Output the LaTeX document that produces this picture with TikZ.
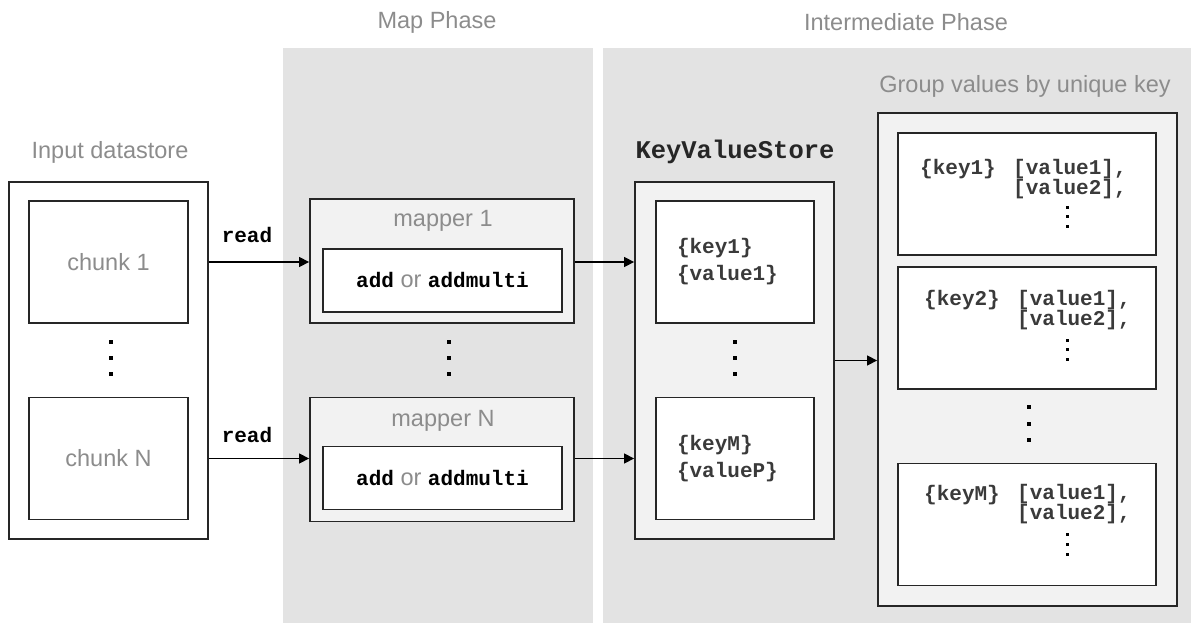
\documentclass[tikz,border=0pt]{standalone}
\usepackage{fontspec}
\setmainfont{Liberation Sans}
\setmonofont{Liberation Mono}
\usetikzlibrary{arrows.meta, positioning}
\definecolor{phasegray}{HTML}{E3E3E3}
\definecolor{panelgray}{HTML}{F2F2F2}
\definecolor{labelgray}{HTML}{8C8C8C}
\definecolor{edgegray}{HTML}{262626}
\definecolor{codegray}{HTML}{3A3A3A}
\newcommand{\mrcode}[1]{{\color{black}\fontsize{21}{20}\selectfont\ttfamily\bfseries #1}}
\tikzset{
  panel/.style={
    draw=edgegray,
    line width=1.8pt,
    rectangle,
    fill=panelgray,
    inner sep=0pt
  },
  cell/.style={
    draw=edgegray,
    line width=1.8pt,
    rectangle,
    fill=white,
    inner sep=0pt
  },
  arrow/.style={
    -{Triangle[length=10pt,width=10pt]}, line width=1.3pt, draw=black}
}

\begin{document}
\begin{tikzpicture}[
    x=1pt, y=-1pt,
    caption/.style={font=\fontsize{23.5}{28}\selectfont, text=labelgray, inner sep=0pt},
    code/.style={font=\fontsize{21}{20}\selectfont\ttfamily\bfseries, text=codegray,
        inner sep=0pt, align=left},
    phase/.style={fill=phasegray, rectangle, inner sep=0pt, anchor=north west},
    chunkbox/.style={cell, caption, minimum width=159pt, minimum height=122pt},
    mapbox/.style={panel, minimum width=264pt, minimum height=124pt},
    emitbox/.style={cell, caption, minimum width=239pt, minimum height=63pt},
    kvcell/.style={cell, code, minimum width=158pt, minimum height=122pt,
        text width=116pt, inner xsep=21pt, font=\fontsize{21}{27}\selectfont\ttfamily\bfseries},
    groupcell/.style={cell, minimum width=258pt, minimum height=122pt},
    dot/.style={fill=black}
]
\useasboundingbox (0,0) rectangle (1191,623);

\node[phase, minimum width=310pt, minimum height=575pt] (mapbg) at (283,48) {};
\node[phase, minimum width=588pt, minimum height=575pt] (midbg) at (603,48) {};
\node[caption] (maplbl) at (437,22) {Map Phase};
\node[caption] (midlbl) at (906,22) {Intermediate Phase};

\node[cell, minimum width=199pt, minimum height=357pt] (store) at (108.5,360.5) {};
\node[caption] (storelbl) at (110,152) {Input datastore};
\node[chunkbox] (chunkone) at (108.5,262) {chunk 1};
\node[chunkbox] (chunkn) at (108.5,458.5) {chunk N};

\node[mapbox] (mapone) at (442,261) {};
\node[caption] (maponelbl) at (443,221) {mapper 1};
\node[emitbox] (emitone) at (442.5,280.5) {\mrcode{add} or \mrcode{addmulti}};
\node[mapbox] (mapn) at (442,459.5) {};
\node[caption] (mapnlbl) at (443,421) {mapper N};
\node[emitbox] (emitn) at (442.5,478) {\mrcode{add} or \mrcode{addmulti}};

\node[code, text=black] (readone) at (247,235) {read};
\node[code, text=black] (readn) at (247,435) {read};

\node[code, text=edgegray, font=\fontsize{25.5}{28}\selectfont\ttfamily\bfseries] (kvlbl) at (735,152) {KeyValueStore};
\node[panel, minimum width=199pt, minimum height=357pt] (kvstore) at (734.5,360.5) {};
\node[kvcell] (kvone) at (735,262) {\{key1\}\\\{value1\}};
\node[kvcell] (kvn) at (735,458.5) {\{keyM\}\\\{valueP\}};

\node[caption] (grouplbl) at (1025,86) {Group values by unique key};
\node[panel, minimum width=299pt, minimum height=493pt] (group) at (1027.5,359.5) {};
\node[groupcell] (gone) at (1027,194) {};
\node[groupcell] (gtwo) at (1027,328) {};
\node[groupcell] (gm) at (1027,524.5) {};

\node[code, anchor=west] (keyone) at (920,169) {\{key1\}};
\node[code, anchor=west] (valone) at (1013,179) {{[value1],}\\{[value2],}};
\node[code, anchor=west] (keytwo) at (924,300) {\{key2\}};
\node[code, anchor=west] (valtwo) at (1017,310) {{[value1],}\\{[value2],}};
\node[code, anchor=west] (keym) at (924,495) {\{keyM\}};
\node[code, anchor=west] (valm) at (1017,504.5) {{[value1],}\\{[value2],}};

\foreach \px in {111,449,735}
  \foreach \py in {342,358,374}
    \fill[dot] (\px-2,\py-2) rectangle ++(4,4);
\foreach \py in {407,423.5,440}
  \fill[dot] (1027,\py-2) rectangle ++(4,4);
\foreach \py in {207,340,534.5}
  \foreach \k in {0,9.8,19.6}
    \fill[dot] (1065.5,\py+\k-1.5) rectangle ++(3,3);

\draw[arrow] (store.east |- chunkone) -- (mapone.west |- chunkone);
\draw[arrow] (store.east |- chunkn) -- (mapn.west |- chunkn);
\draw[arrow] (mapone.east |- kvone) -- (kvstore.west |- kvone);
\draw[arrow] (mapn.east |- kvn) -- (kvstore.west |- kvn);
\draw[arrow] (kvstore.east) -- (group.west |- kvstore.east);
\end{tikzpicture}
\end{document}
